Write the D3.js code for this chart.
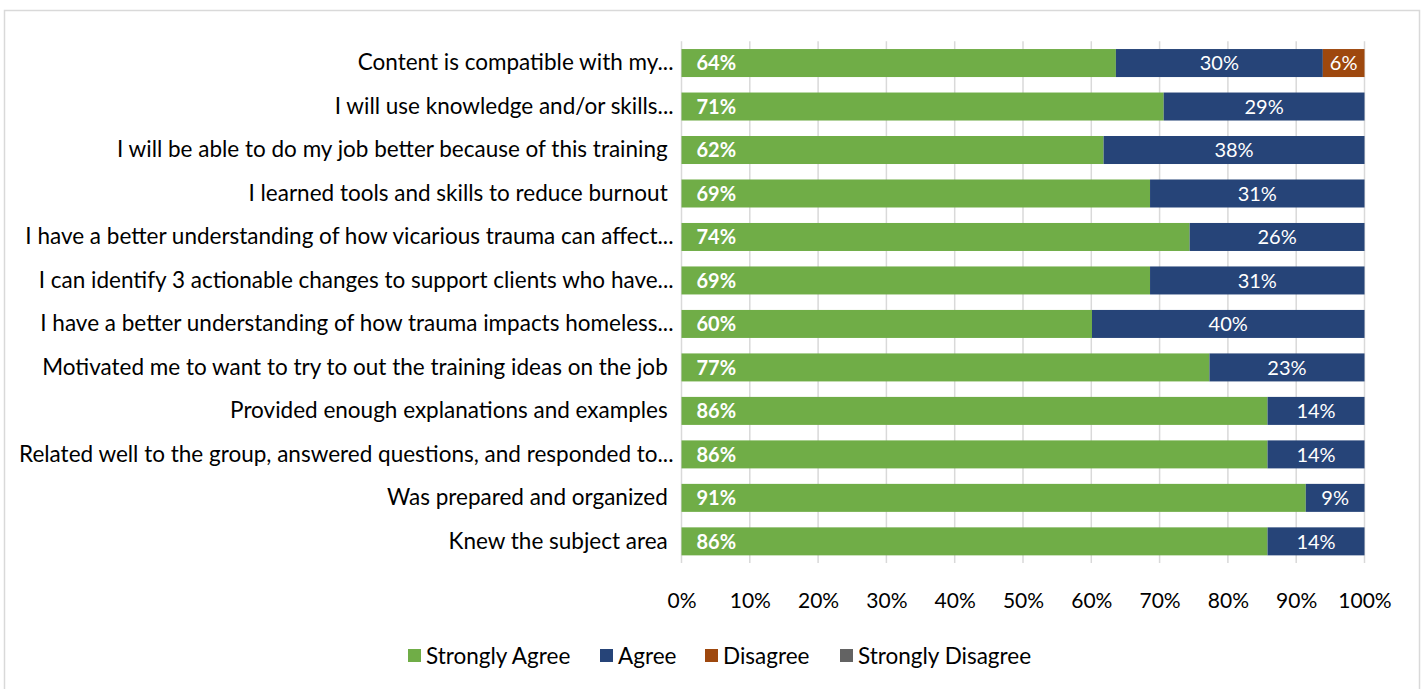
<!DOCTYPE html>
<html>
<head>
<meta charset="utf-8">
<script src="https://cdn.jsdelivr.net/npm/d3@7"></script>
<style>
  html, body { margin: 0; padding: 0; background: #fff; }
  svg { display: block; }
  text { font-family: Lato, "Open Sans", sans-serif; }
</style>
</head>
<body>
<svg id="chart" width="1424" height="689"></svg>
<script>
// Survey statements, top to bottom
const categories = [
  "Content is compatible with my...",
  "I will use knowledge and/or skills...",
  "I will be able to do my job better because of this training ",
  "I learned tools and skills to reduce burnout ",
  "I have a better understanding of how vicarious trauma can affect...",
  "I can identify 3 actionable changes to support clients who have...",
  "I have a better understanding of how trauma impacts homeless...",
  "Motivated me to want to try to out the training ideas on the job ",
  "Provided enough explanations and examples ",
  "Related well to the group, answered questions, and responded to...",
  "Was prepared and organized ",
  "Knew the subject area "
];

// Share of responses per statement (fractions of 1)
const stronglyAgree    = [0.636, 0.706, 0.618, 0.686, 0.744, 0.686, 0.601, 0.773, 0.858, 0.858, 0.914, 0.858];
const agree            = [0.303, 0.294, 0.382, 0.314, 0.256, 0.314, 0.399, 0.227, 0.142, 0.142, 0.086, 0.142];
const disagree         = [0.061, 0, 0, 0, 0, 0, 0, 0, 0, 0, 0, 0];
const stronglyDisagree = [0, 0, 0, 0, 0, 0, 0, 0, 0, 0, 0, 0];

const seriesNames  = ["Strongly Agree", "Agree", "Disagree", "Strongly Disagree"];
const seriesColors = ["#70AD47", "#264478", "#9E480E", "#636363"];
const tickValues   = [0, 0.1, 0.2, 0.3, 0.4, 0.5, 0.6, 0.7, 0.8, 0.9, 1.0];

const rows = categories.map((c, i) => ({
  category: c,
  "Strongly Agree": stronglyAgree[i],
  "Agree": agree[i],
  "Disagree": disagree[i],
  "Strongly Disagree": stronglyDisagree[i]
}));

const svg = d3.select("#chart");

// Outer frame
svg.append("rect")
  .attr("x", 4.5).attr("y", 10.5)
  .attr("width", 1415).attr("height", 700)
  .attr("fill", "none").attr("stroke", "#d9d9d9").attr("stroke-width", 1.5);

const plot = { left: 681.5, right: 1364.5, top: 41.3, bottom: 563.1 };

const x = d3.scaleLinear().domain([0, 1]).range([plot.left, plot.right]);
const y = d3.scaleBand().domain(categories)
  .range([plot.top, plot.bottom])
  .paddingInner(0.356).paddingOuter(0.178);
const color = d3.scaleOrdinal().domain(seriesNames).range(seriesColors);

// Vertical gridlines
svg.append("g").selectAll("line")
  .data(tickValues)
  .join("line")
  .attr("x1", d => x(d)).attr("x2", d => x(d))
  .attr("y1", plot.top).attr("y2", plot.bottom)
  .attr("stroke", "#d9d9d9").attr("stroke-width", 1.5);

// Stacked bars
const stacked = d3.stack().keys(seriesNames)(rows);

const layers = svg.append("g").selectAll("g")
  .data(stacked)
  .join("g")
  .attr("fill", d => color(d.key));

layers.selectAll("rect")
  .data(d => d.map(p => ({ p, key: d.key })))
  .join("rect")
  .attr("x", d => x(d.p[0]))
  .attr("y", d => y(d.p.data.category))
  .attr("width", d => Math.max(0, x(d.p[1]) - x(d.p[0])))
  .attr("height", y.bandwidth());

// Data labels
const fmt = d3.format(".0%");
layers.selectAll("text")
  .data(d => d.filter(p => p[1] - p[0] > 0).map(p => ({ p, key: d.key })))
  .join("text")
  .attr("x", d => d.key === "Strongly Agree" ? x(d.p[0]) + 15 : (x(d.p[0]) + x(d.p[1])) / 2)
  .attr("y", d => y(d.p.data.category) + y.bandwidth() / 2)
  .attr("dy", "0.36em")
  .attr("text-anchor", d => d.key === "Strongly Agree" ? "start" : "middle")
  .attr("font-weight", d => d.key === "Strongly Agree" ? "bold" : "normal")
  .attr("font-size", 20)
  .attr("fill", "#fff")
  .text(d => fmt(d.p[1] - d.p[0]));

// Category axis
const yAxis = svg.append("g")
  .attr("transform", `translate(${plot.left},0)`)
  .call(d3.axisLeft(y).tickSize(0).tickPadding(8));
yAxis.select(".domain").remove();
yAxis.selectAll("text")
  .attr("xml:space", "preserve")
  .attr("font-size", 22.5)
  .attr("fill", "#000")
  .style("white-space", "pre")
  .style("font-family", "Lato, sans-serif");

// Percentage axis
const xAxis = svg.append("g")
  .attr("transform", `translate(0,${plot.bottom})`)
  .call(d3.axisBottom(x).tickValues(tickValues).tickFormat(d3.format(".0%")).tickSize(0).tickPadding(30));
xAxis.select(".domain").remove();
xAxis.selectAll("text")
  .attr("font-size", 21)
  .attr("fill", "#000")
  .style("font-family", "Lato, sans-serif");

// Legend
const legendX = [408, 600, 705, 840];
const legend = svg.append("g").selectAll("g")
  .data(seriesNames)
  .join("g")
  .attr("transform", (d, i) => `translate(${legendX[i]},656)`);
legend.append("rect")
  .attr("x", 0).attr("y", -7)
  .attr("width", 13).attr("height", 13)
  .attr("fill", d => color(d));
legend.append("text")
  .attr("x", 18).attr("dy", "0.36em")
  .attr("font-size", 22.5)
  .attr("fill", "#000")
  .text(d => d);
</script>
</body>
</html>
